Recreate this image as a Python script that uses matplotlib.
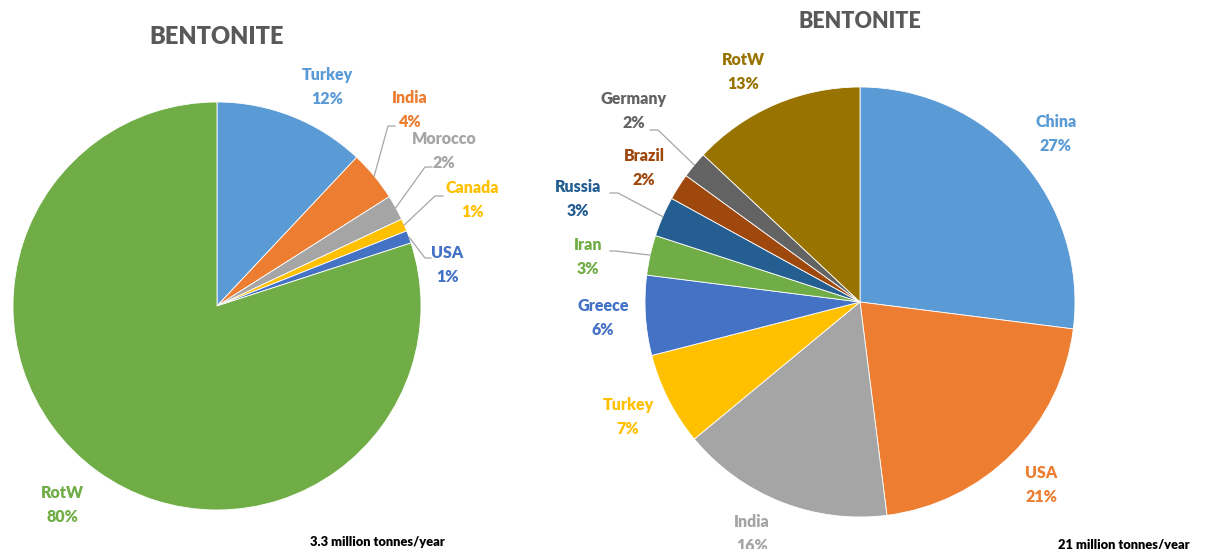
import matplotlib.pyplot as plt
import numpy as np

plt.rcParams['font.family'] = ['Lato', 'DejaVu Sans']

W, H = 1208, 549

# left chart: 3.3 million tonnes/year
left_names = ["Turkey", "India", "Morocco", "Canada", "USA", "RotW"]
left_share = [12, 4, 2, 1, 1, 80]
left_colors = ["#5B9BD5", "#ED7D31", "#A5A5A5", "#FFC000", "#4472C4", "#70AD47"]

# right chart: 21 million tonnes/year
right_names = ["China", "USA", "India", "Turkey", "Greece", "Iran", "Russia", "Brazil", "Germany", "RotW"]
right_share = [27, 21, 16, 7, 6, 3, 3, 2, 2, 13]
right_colors = ["#5B9BD5", "#ED7D31", "#A5A5A5", "#FFC000", "#4472C4", "#70AD47",
                "#255E91", "#9E480E", "#636363", "#997300"]

left_title = "BENTONITE"
right_title = "BENTONITE"
left_total = "3.3 million tonnes/year"
right_total = "21 million tonnes/year"


def py(y):
    # pixel row from top -> data y
    return H - y


# label block centres (pixels from top) and leader-line elbows
left_lab = {"Turkey": (327, 87), "India": (410, 110), "Morocco": (444, 151),
            "Canada": (472, 200), "USA": (447, 265), "RotW": (62, 505)}
left_lead = {"India": [(388, 126), (395, 126)], "Morocco": [(425, 167), (432, 167)],
             "Canada": [(435, 196), (443, 196)], "USA": [(425, 258), (431, 258)]}

right_lab = {"China": (1056, 134), "USA": (1041, 485), "India": (752, 534),
             "Turkey": (628, 417), "Greece": (603, 318), "Iran": (588, 257),
             "Russia": (578, 199), "Brazil": (644, 168), "Germany": (634, 111),
             "RotW": (743, 72)}
right_lead = {"Germany": [(658, 130), (650, 130)], "Russia": [(618, 193), (610, 193)],
              "Iran": [(615, 251), (610, 251)]}


def draw_pie(ax, share, names, colors, center, radius, labels, leads):
    wedges, _ = ax.pie(share, colors=colors, startangle=90, counterclock=False,
                       center=(center[0], py(center[1])), radius=radius,
                       wedgeprops=dict(edgecolor="white", linewidth=0.6))
    for w, name, c, v in zip(wedges, names, colors, share):
        x, y = labels[name]
        ax.text(x, py(y), f"{name}\n{v}%", color=c, fontsize=11.5, fontweight="heavy",
                ha="center", va="center", linespacing=1.6)
        if name in leads:
            mid = np.deg2rad((w.theta1 + w.theta2) / 2)
            x0 = w.center[0] + w.r * np.cos(mid)
            y0 = w.center[1] + w.r * np.sin(mid)
            pts = [(x0, y0)] + [(px, py(qy)) for px, qy in leads[name]]
            xs, ys = zip(*pts)
            ax.plot(xs, ys, color="#A6A6A6", lw=0.9)


fig = plt.figure(figsize=(W / 100, H / 100), dpi=100)
ax = fig.add_axes([0, 0, 1, 1])

draw_pie(ax, left_share, left_names, left_colors, (217, 306), 204, left_lab, left_lead)
draw_pie(ax, right_share, right_names, right_colors, (860, 302), 215, right_lab, right_lead)

ax.text(217, py(37), left_title, fontsize=17, fontweight="heavy", color="#595959",
        ha="center", va="center")
ax.text(860, py(21), right_title, fontsize=15.5, fontweight="heavy", color="#595959",
        ha="center", va="center")
ax.text(377, py(542), left_total, fontsize=9.3, fontweight="heavy", color="black",
        ha="center", va="center")
ax.text(1124, py(545), right_total, fontsize=9.3, fontweight="heavy", color="black",
        ha="center", va="center")

ax.set_xlim(0, W)
ax.set_ylim(0, H)
ax.axis("off")

fig.savefig("out.png", dpi=100)
